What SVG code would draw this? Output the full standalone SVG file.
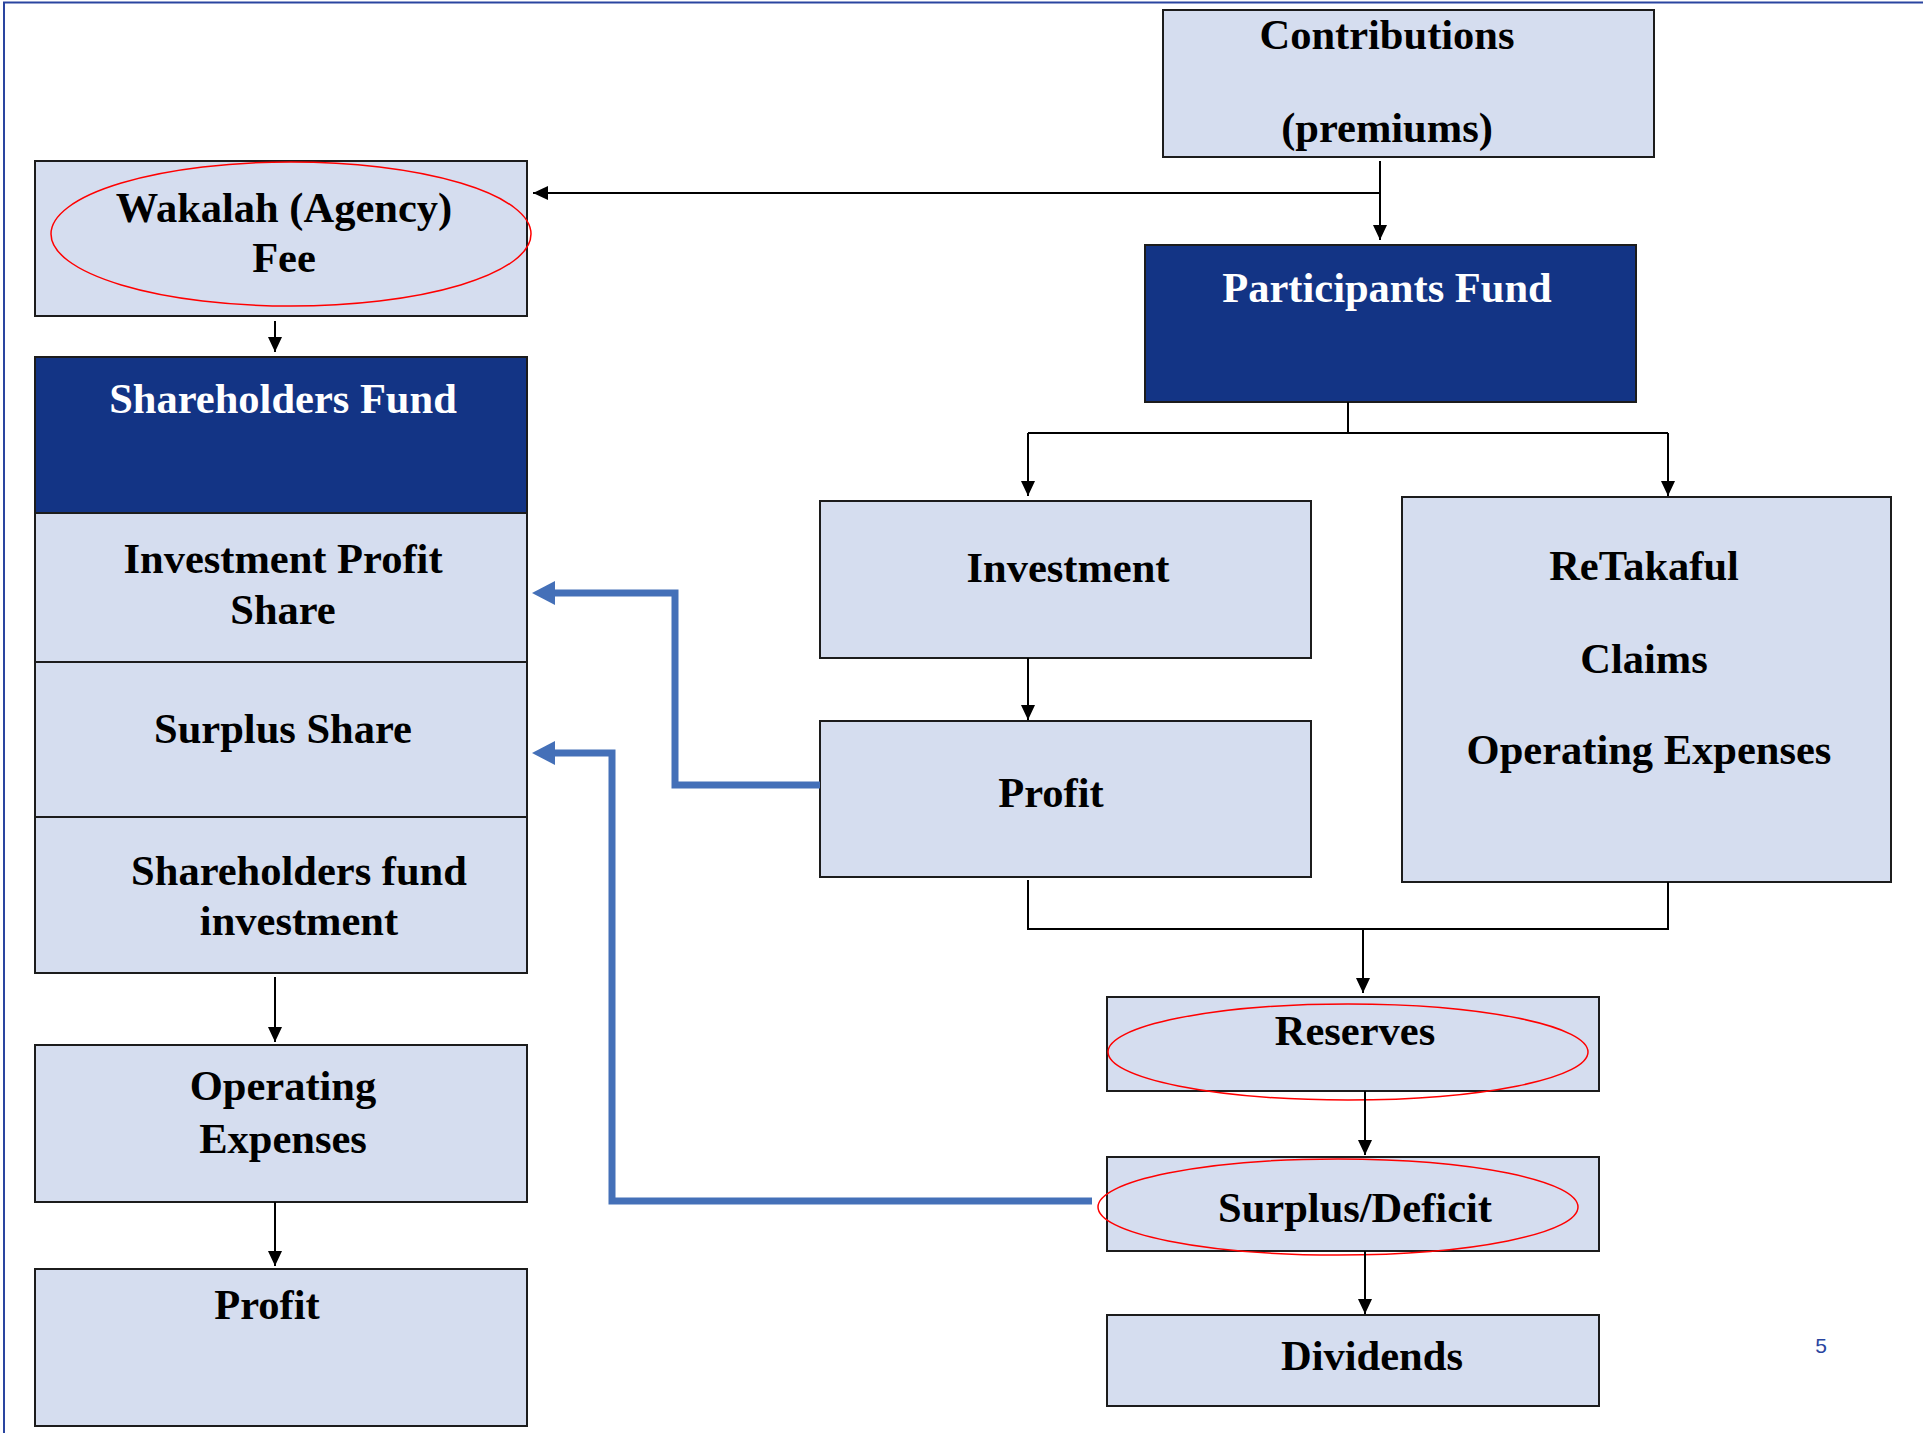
<svg xmlns="http://www.w3.org/2000/svg" width="1923" height="1433" viewBox="0 0 1923 1433">
<style>
.box{fill:#D5DDEF;stroke:#1c1c1c;stroke-width:2}
.navy{fill:#133485;stroke:#1c1c1c;stroke-width:2}
.t{font-family:"Liberation Serif","Times New Roman",serif;font-weight:bold;font-size:42.5px;fill:#000;text-anchor:middle}
.tw{fill:#fff}
.ell{fill:none;stroke:#f00;stroke-width:1.5}
.blk{fill:none;stroke:#000;stroke-width:2}
.blu{fill:none;stroke:#4470B8;stroke-width:7}
</style>
<defs>
<marker id="ah" markerUnits="userSpaceOnUse" markerWidth="15" markerHeight="14" viewBox="0 0 15 14" refX="15" refY="7" orient="auto">
<path d="M0,0 L15,7 L0,14 z" fill="#000"/>
</marker>
<marker id="bah" markerUnits="userSpaceOnUse" markerWidth="23" markerHeight="24" viewBox="0 0 23 24" refX="0" refY="12" orient="auto">
<path d="M0,0 L23,12 L0,24 z" fill="#4470B8"/>
</marker>
</defs>
<rect width="1923" height="1433" fill="#fff"/>
<path d="M4,1433 V2.5 H1923" fill="none" stroke="#2A45A0" stroke-width="2"/>

<g id="contributions"><rect class="box" x="1163" y="10" width="491" height="147"/>
<text class="t" x="1387" y="49">Contributions</text><text class="t" x="1387" y="142">(premiums)</text></g>
<g id="wakalah"><rect class="box" x="35" y="161" width="492" height="155"/>
<text class="t" x="284" y="222">Wakalah (Agency)</text><text class="t" x="284" y="272">Fee</text>
<ellipse class="ell" cx="291" cy="234" rx="240" ry="72"/></g>
<g id="shareholders-fund"><rect class="navy" x="35" y="357" width="492" height="156"/>
<text class="t tw" x="283" y="413">Shareholders Fund</text></g>
<g id="investment-profit-share"><rect class="box" x="35" y="513" width="492" height="149"/>
<text class="t" x="283" y="573">Investment Profit</text><text class="t" x="283" y="624">Share</text></g>
<g id="surplus-share"><rect class="box" x="35" y="662" width="492" height="155"/>
<text class="t" x="283" y="743">Surplus Share</text></g>
<g id="shareholders-fund-investment"><rect class="box" x="35" y="817" width="492" height="156"/>
<text class="t" x="299" y="885">Shareholders fund</text><text class="t" x="299" y="935">investment</text></g>
<g id="operating-expenses-left"><rect class="box" x="35" y="1045" width="492" height="157"/>
<text class="t" x="283" y="1100">Operating</text><text class="t" x="283" y="1153">Expenses</text></g>
<g id="profit-left"><rect class="box" x="35" y="1269" width="492" height="157"/>
<text class="t" x="267" y="1319">Profit</text></g>
<g id="participants-fund"><rect class="navy" x="1145" y="245" width="491" height="157"/>
<text class="t tw" x="1387" y="302">Participants Fund</text></g>
<g id="investment"><rect class="box" x="820" y="501" width="491" height="157"/>
<text class="t" x="1068" y="582">Investment</text></g>
<g id="profit-right"><rect class="box" x="820" y="721" width="491" height="156"/>
<text class="t" x="1051" y="807">Profit</text></g>
<g id="retakaful"><rect class="box" x="1402" y="497" width="489" height="385"/>
<text class="t" x="1644" y="580">ReTakaful</text><text class="t" x="1644" y="673">Claims</text><text class="t" x="1649" y="764">Operating Expenses</text></g>
<g id="reserves"><rect class="box" x="1107" y="997" width="492" height="94"/>
<text class="t" x="1355" y="1045">Reserves</text>
<ellipse class="ell" cx="1348" cy="1052" rx="240" ry="48"/></g>
<g id="surplus-deficit"><rect class="box" x="1107" y="1157" width="492" height="94"/>
<text class="t" x="1355" y="1222">Surplus/Deficit</text>
<ellipse class="ell" cx="1338" cy="1207" rx="240" ry="48"/></g>
<g id="dividends"><rect class="box" x="1107" y="1315" width="492" height="91"/>
<text class="t" x="1372" y="1370">Dividends</text></g>

<g id="connectors">
<path class="blk" d="M1380,161 V240" marker-end="url(#ah)"/>
<path class="blk" d="M1380,193 H533" marker-end="url(#ah)"/>
<path class="blk" d="M275,321 V352" marker-end="url(#ah)"/>
<path class="blk" d="M1348,402 V433 M1028,433 H1668"/>
<path class="blk" d="M1028,433 V496" marker-end="url(#ah)"/>
<path class="blk" d="M1668,433 V496" marker-end="url(#ah)"/>
<path class="blk" d="M1028,658 V720" marker-end="url(#ah)"/>
<path class="blk" d="M1028,880 V929 H1668 V882"/>
<path class="blk" d="M1363,929 V993" marker-end="url(#ah)"/>
<path class="blk" d="M1365,1091 V1155" marker-end="url(#ah)"/>
<path class="blk" d="M1365,1251 V1314" marker-end="url(#ah)"/>
<path class="blk" d="M275,977 V1042" marker-end="url(#ah)"/>
<path class="blk" d="M275,1202 V1266" marker-end="url(#ah)"/>
<path class="blu" d="M820,785 H675 V593 H555" marker-end="url(#bah)"/>
<path class="blu" d="M1092,1201 H612 V753 H555" marker-end="url(#bah)"/>
</g>
<text x="1821" y="1353" font-family="Liberation Sans, Arial, sans-serif" font-size="21" fill="#2A45A0" text-anchor="middle">5</text>
</svg>
